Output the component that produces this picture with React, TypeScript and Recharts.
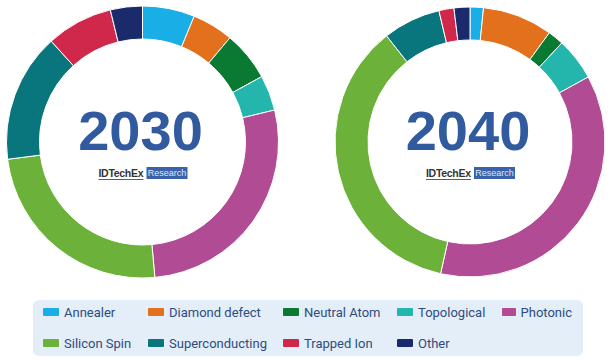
import { PieChart, Pie, Cell, Legend } from "recharts";

const categories = [
  "Annealer",
  "Diamond defect",
  "Neutral Atom",
  "Topological",
  "Photonic",
  "Silicon Spin",
  "Superconducting",
  "Trapped Ion",
  "Other",
];

const colors = [
  "#19afe6", // annealer
  "#e2701c", // diamond defect
  "#0a7a33", // neutral atom
  "#24b5ad", // topological
  "#b14b93", // photonic
  "#6cb23a", // silicon spin
  "#08767c", // superconducting
  "#d0284a", // trapped ion
  "#1b2a6a", // other
];

// market share (%)
const share2030 = [6.2, 4.9, 5.9, 4.2, 27.3, 24.4, 15.3, 7.9, 3.8];
const share2040 = [1.6, 8.4, 1.9, 5.1, 36.5, 35.9, 6.9, 1.8, 1.9];

const years = ["2030", "2040"];

const toRows = (values: number[]) =>
  categories.map((name, i) => ({ name, value: values[i] }));

const data2030 = toRows(share2030);
const data2040 = toRows(share2040);

// legend column widths so the two rows line up like the original grid
const legendCols = [105, 135, 114, 105, 70];

function CenterBadge({ cx, cy, year }: { cx: number; cy: number; year: string }) {
  return (
    <g>
      <text
        x={cx - 2}
        y={cy + 8}
        textAnchor="middle"
        fontFamily="'Liberation Sans', Arial, sans-serif"
        fontWeight="bold"
        fontSize={56}
        fill="#325a9f"
      >
        {year}
      </text>
      <text
        x={cx - 44}
        y={cy + 35}
        fontFamily="'Liberation Sans', Arial, sans-serif"
        fontWeight="bold"
        fontSize={10.5}
        fill="#333"
        letterSpacing={-0.3}
      >
        IDTechEx
      </text>
      <line x1={cx - 44} x2={cx + 1} y1={cy + 37.5} y2={cy + 37.5} stroke="#3a62aa" strokeWidth={1} />
      <rect x={cx + 4} y={cy + 25} width={41} height={12} fill="#3a62aa" />
      <text
        x={cx + 24.5}
        y={cy + 34}
        textAnchor="middle"
        fontFamily="'Liberation Sans', Arial, sans-serif"
        fontSize={9}
        fill="#dfe7f5"
      >
        Research
      </text>
    </g>
  );
}

function LegendBox() {
  const rows = [categories.slice(0, 5), categories.slice(5)];
  return (
    <div
      style={{
        width: 550,
        height: 56,
        boxSizing: "border-box",
        background: "#e3eef8",
        borderRadius: 6,
        paddingLeft: 10,
        fontFamily: "Roboto, sans-serif",
        fontSize: 13,
        fontWeight: 400,
        color: "#2e4c7e",
      }}
    >
      {rows.map((row, r) => (
        <div
          key={r}
          style={{ display: "flex", height: 24, alignItems: "center", marginBottom: r === 0 ? 7 : 0 }}
        >
          {row.map((name, c) => {
            const idx = r * 5 + c;
            return (
              <div key={name} style={{ width: legendCols[c], display: "flex", alignItems: "center" }}>
                <span
                  style={{
                    display: "inline-block",
                    width: 16,
                    height: 8,
                    borderRadius: 1,
                    background: colors[idx],
                    marginRight: 5,
                  }}
                />
                <span style={{ whiteSpace: "nowrap" }}>{name}</span>
              </div>
            );
          })}
        </div>
      ))}
    </div>
  );
}

export default function App() {
  return (
    <div style={{ position: "absolute", left: 0, top: 0, width: 609, height: 361, background: "#fff" }}>
      <PieChart width={609} height={361} margin={{ top: 0, right: 0, bottom: 0, left: 0 }}>
        <Pie
          data={data2030}
          dataKey="value"
          nameKey="name"
          cx={142.5}
          cy={142}
          innerRadius={103}
          outerRadius={136}
          startAngle={90}
          endAngle={-270}
          stroke="#fff"
          strokeWidth={1}
          isAnimationActive={false}
        >
          {data2030.map((d, i) => (
            <Cell key={d.name} fill={colors[i]} />
          ))}
        </Pie>
        <Pie
          data={data2040}
          dataKey="value"
          nameKey="name"
          cx={470}
          cy={142}
          innerRadius={102}
          outerRadius={135}
          startAngle={90}
          endAngle={-270}
          stroke="#fff"
          strokeWidth={1}
          isAnimationActive={false}
        >
          {data2040.map((d, i) => (
            <Cell key={d.name} fill={colors[i]} />
          ))}
        </Pie>
        <CenterBadge cx={142.5} cy={142} year={years[0]} />
        <CenterBadge cx={470} cy={142} year={years[1]} />
        <Legend
          content={() => <LegendBox />}
          wrapperStyle={{ position: "absolute", left: 33, top: 300, width: 550 }}
        />
      </PieChart>
    </div>
  );
}
